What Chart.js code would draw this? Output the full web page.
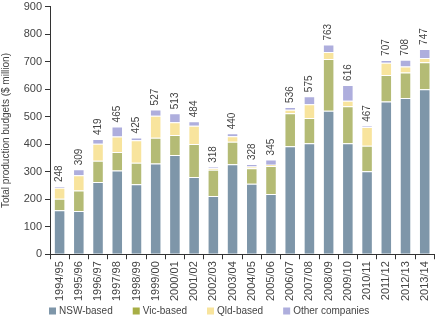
<!DOCTYPE html>
<html>
<head>
<meta charset="utf-8">
<script src="https://cdn.jsdelivr.net/npm/chart.js@4"></script>
<style>
  html, body { margin: 0; padding: 0; background: #fff; }
  #wrap { width: 440px; height: 318px; }
</style>
</head>
<body>
<div id="wrap"><canvas id="chart"></canvas></div>
<script>
const years = ["1994/95", "1995/96", "1996/97", "1997/98", "1998/99", "1999/00", "2000/01",
  "2001/02", "2002/03", "2003/04", "2004/05", "2005/06", "2006/07", "2007/08", "2008/09",
  "2009/10", "2010/11", "2011/12", "2012/13", "2013/14"];
const nswBased = [160, 157, 263, 305, 255, 330, 361, 281, 212, 327, 256, 219, 393, 404, 522, 404, 302, 556, 568, 600];
const vicBased = [42, 75, 77, 67, 78, 94, 73, 120, 95, 82, 57, 102, 120, 92, 188, 134, 93, 96, 93, 98];
const qldBased = [40, 55, 62, 56, 82, 80, 46, 66, 6, 20, 6, 5, 13, 50, 26, 20, 68, 45, 22, 16];
const otherCompanies = [6, 22, 17, 37, 10, 23, 33, 17, 5, 11, 9, 19, 10, 29, 27, 58, 4, 10, 25, 33];
const totals = [248, 309, 419, 465, 425, 527, 513, 484, 318, 440, 328, 345, 536, 575, 763, 616, 467, 707, 708, 747];

const FONT = "'Liberation Sans', Arial, sans-serif";
const TEXT = "#444";

// rotated totals above each stacked bar
const totalLabels = {
  id: "totalLabels",
  afterDatasetsDraw(chart) {
    const ctx = chart.ctx;
    const meta = chart.getDatasetMeta(3);
    const y = chart.scales.y;
    ctx.save();
    ctx.font = "10px " + FONT;
    ctx.fillStyle = TEXT;
    ctx.textAlign = "left";
    ctx.textBaseline = "middle";
    meta.data.forEach((bar, i) => {
      ctx.save();
      ctx.translate(bar.x, y.getPixelForValue(totals[i]) - 4);
      ctx.rotate(-Math.PI / 2);
      ctx.fillText(String(totals[i]), 0, 0);
      ctx.restore();
    });
    ctx.restore();
  }
};

// legend row under the axis labels, starting at the y axis
const bottomLegend = {
  id: "bottomLegend",
  afterDraw(chart) {
    const ctx = chart.ctx;
    let x = chart.chartArea.left - 1;
    const yMid = chart.height - 7;
    ctx.save();
    ctx.font = "10px " + FONT;
    ctx.textBaseline = "middle";
    ctx.textAlign = "left";
    chart.data.datasets.forEach(d => {
      ctx.fillStyle = d.legendColor || d.backgroundColor;
      ctx.fillRect(x, yMid - 3.5, 7, 7);
      ctx.fillStyle = TEXT;
      ctx.fillText(d.label, x + 10, yMid);
      x += 10 + ctx.measureText(d.label).width + 20;
    });
    ctx.restore();
  }
};

function ds(label, data, color, legendColor) {
  return {
    label, data, legendColor,
    backgroundColor: color,
    borderColor: "rgba(255,255,255,0.35)",
    borderWidth: 1,
    barPercentage: 0.6,
    categoryPercentage: 1.0
  };
}

new Chart(document.getElementById("chart"), {
  type: "bar",
  data: {
    labels: years,
    datasets: [
      ds("NSW-based", nswBased, "#7e96a9"),
      ds("Vic-based", vicBased, "#b4bb75", "#a7ae45"),
      ds("Qld-based", qldBased, "#f8e49d"),
      ds("Other companies", otherCompanies, "#aeaedd")
    ]
  },
  options: {
    responsive: true,
    maintainAspectRatio: false,
    animation: false,
    layout: { padding: { top: 0, right: 3, left: 0, bottom: 15 } },
    plugins: {
      tooltip: { enabled: false },
      legend: { display: false }
    },
    scales: {
      x: {
        stacked: true,
        grid: { display: true, drawOnChartArea: false, color: "#333", tickLength: 5, offset: true },
        border: { color: "#333", width: 1 },
        ticks: { font: { family: FONT, size: 11 }, color: TEXT, minRotation: 90, maxRotation: 90, autoSkip: false, padding: 2 }
      },
      y: {
        stacked: true,
        min: 0, max: 900,
        grid: { display: true, drawOnChartArea: false, color: "#333", tickLength: 5 },
        border: { color: "#333", width: 1 },
        ticks: { stepSize: 100, font: { family: FONT, size: 11, lineHeight: 0.7 }, color: TEXT, padding: 3 },
        title: { display: true, text: "Total production budgets ($ million)", font: { family: FONT, size: 10 }, color: TEXT, padding: 0 },
        afterFit(scale) { scale.width = 50; }
      }
    }
  },
  plugins: [totalLabels, bottomLegend]
});
</script>
</body>
</html>
